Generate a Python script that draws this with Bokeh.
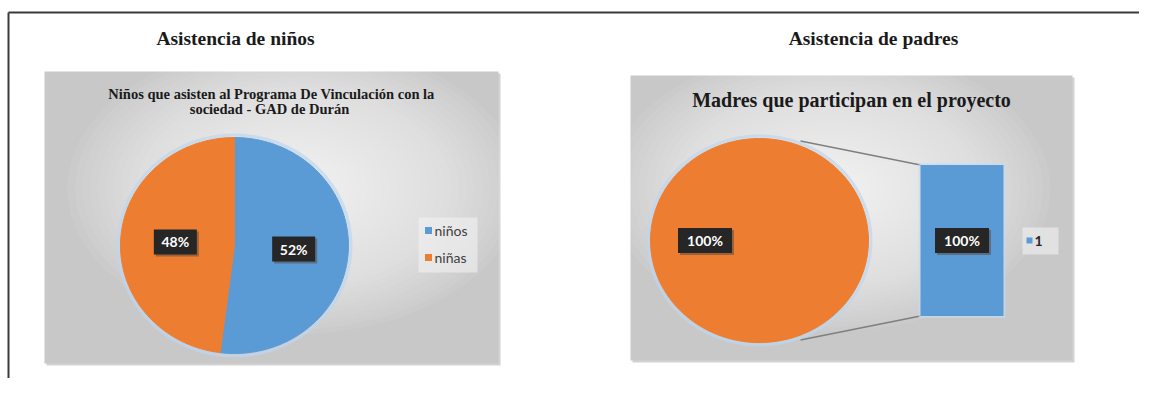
import numpy as np
from bokeh.plotting import figure
from bokeh.models import Range1d
from bokeh.core.properties import value
from bokeh.embed import file_html
from bokeh.resources import INLINE

# ---------------- data ----------------
child_labels = ["niños", "niñas"]
child_pct = [52, 48]
child_colors = ["#5B9BD5", "#ED7D31"]

parent_labels = ["1"]
parent_pct = [100]
parent_pie_color = "#ED7D31"
parent_bar_color = "#5B9BD5"

title_left = "Asistencia de niños"
title_right = "Asistencia de padres"
sub_left = ["Niños que asisten al Programa De Vinculación con la",
            "sociedad - GAD de Durán"]
sub_right = "Madres que participan en el proyecto"

# ---------------- figure (1 data unit = 1 px, Y = 394 - image y) ----------------
H = 394
def Y(v):
    return H - v

p = figure(width=1139, height=378, x_range=Range1d(0, 1139), y_range=Range1d(16, 394),
           output_backend="svg", toolbar_location=None, min_border=0)
p.axis.visible = False
p.grid.visible = False
p.outline_line_color = None
p.background_fill_color = "white"
p.border_fill_color = "white"

SERIF = value("Liberation Serif")
SANS = value("Lato")

# frame lines
p.line([8, 1139], [Y(12), Y(12)], line_color="#3a3a3a", line_width=2)
p.line([8, 8], [Y(12), Y(394)], line_color="#3a3a3a", line_width=2)


def panel(x0, x1, y0, y1, cx_frac=0.5, cy_frac=0.45):
    # shadow
    p.quad(left=x0 + 2, right=x1 + 2, top=Y(y0 + 2), bottom=Y(y1 + 2),
           fill_color="#b4b4b4", fill_alpha=0.6, line_color=None)
    p.quad(left=x0, right=x1, top=Y(y0), bottom=Y(y1), fill_color="#c8c8c8", line_color=None)
    w, h = x1 - x0, y1 - y0
    cx, cy = x0 + w * cx_frac, y0 + h * cy_frac
    n = 28
    for k in range(n):
        s = 1.0 - k * (0.95 / n)
        p.ellipse(x=[cx], y=[Y(cy)], width=w * s, height=h * s,
                  fill_color="white", fill_alpha=0.06, line_color=None)


def label_box(x, y, txt, w):
    p.rect(x=[x + 2], y=[Y(y + 2)], width=w, height=25, fill_color="#5a4a40",
           fill_alpha=0.55, line_color=None)
    p.rect(x=[x], y=[Y(y)], width=w, height=25, fill_color="#262626", line_color=None)
    p.text(x=[x], y=[Y(y)], text=[txt], text_font=SANS, text_font_style="bold",
           text_font_size="14px", text_color="white", text_align="center",
           text_baseline="middle")


# ================= LEFT CHART =================
panel(44, 498, 71, 363, cx_frac=0.55, cy_frac=0.4)

p.text(x=[235], y=[Y(38)], text=[title_left], text_font=SERIF, text_font_style="bold",
       text_font_size="19.5px", text_color="#1a1a1a", text_align="center", text_baseline="middle")
p.text(x=[271, 269], y=[Y(93), Y(108)], text=sub_left, text_font=SERIF,
       text_font_style="bold", text_font_size="14.5px", text_color="#1a1a1a",
       text_align="center", text_baseline="middle")

cx, cy, rx, ry = 234, 245, 114, 108
p.ellipse(x=[cx], y=[Y(cy)], width=2 * rx + 5, height=2 * ry + 5,
          fill_color=None, line_color="#bcd6ee", line_width=3, line_alpha=0.7)
tot = float(sum(child_pct))
cum = 0.0
for lab, v, col in zip(child_labels, child_pct, child_colors):
    f0, f1 = cum / tot, (cum + v) / tot
    th = np.linspace(2 * np.pi * f0, 2 * np.pi * f1, 120)
    xs = [cx] + list(cx + rx * np.sin(th))
    ys = [Y(cy)] + list(Y(cy) + ry * np.cos(th))
    p.patch(xs, ys, fill_color=col, line_color=col, line_width=1)
    cum += v

cum = 0.0
for lab, v in zip(child_labels, child_pct):
    fm = (cum + v / 2) / tot
    th = 2 * np.pi * fm
    lx = cx + 0.52 * rx * np.sin(th)
    ly = cy - 0.52 * ry * np.cos(th)
    label_box(lx, ly, f"{v}%", 43)
    cum += v

# legend
p.quad(left=418, right=477, top=Y(217), bottom=Y(272), fill_color="#f2f2f2",
       fill_alpha=0.6, line_color=None)
leg_y = [230, 257]
p.scatter(x=[428] * len(child_labels), y=[Y(v) for v in leg_y], marker="square", size=7,
          fill_color=child_colors, line_color=None)
p.text(x=[434] * len(child_labels), y=[Y(v) for v in leg_y], text=child_labels,
       text_font=SANS, text_font_size="14px", text_color="#404040",
       text_align="left", text_baseline="middle")

# ================= RIGHT CHART =================
panel(630, 1072, 75, 360, cx_frac=0.45, cy_frac=0.4)

p.text(x=[873], y=[Y(38)], text=[title_right], text_font=SERIF, text_font_style="bold",
       text_font_size="19.5px", text_color="#1a1a1a", text_align="center", text_baseline="middle")
p.text(x=[851], y=[Y(99)], text=[sub_right], text_font=SERIF, text_font_style="bold",
       text_font_size="20px", text_color="#1a1a1a", text_align="center",
       text_baseline="middle")

pcx, pcy, prx, pry = 759, 240, 109, 102
# bar of the "other" slice
bar_left, bar_right = 920, 1003
bar_full = 151
bar_h = bar_full * parent_pct[0] / 100.0
bar_top = pcy - bar_h / 2
bar_bot = pcy + bar_h / 2

# connector lines (tangent-ish points on the pie)
ang = np.arcsin((800 - pcx) / prx)
top_pt = (pcx + prx * np.sin(ang), pcy - pry * np.cos(ang) - 5)
bot_pt = (pcx + prx * np.sin(ang), pcy + pry * np.cos(ang) + 5)
p.line([top_pt[0], bar_left], [Y(top_pt[1]), Y(bar_top)], line_color="#7f7f7f", line_width=1.5)
p.line([bot_pt[0], bar_left], [Y(bot_pt[1]), Y(bar_bot)], line_color="#7f7f7f", line_width=1.5)

p.ellipse(x=[pcx], y=[Y(pcy)], width=2 * prx + 5, height=2 * pry + 5,
          fill_color=None, line_color="#bcd6ee", line_width=3, line_alpha=0.7)
th = np.linspace(0, 2 * np.pi * parent_pct[0] / 100.0, 200)
p.patch(list(pcx + prx * np.sin(th)), list(Y(pcy) + pry * np.cos(th)),
        fill_color=parent_pie_color, line_color=parent_pie_color)

p.quad(left=bar_left - 2, right=bar_right + 2, top=Y(bar_top - 2), bottom=Y(bar_bot + 2),
       fill_color="#c5dcf0", fill_alpha=0.6, line_color=None)
p.quad(left=bar_left, right=bar_right, top=Y(bar_top), bottom=Y(bar_bot),
       fill_color=parent_bar_color, line_color=None)

label_box(pcx - 0.5 * prx, pcy, f"{parent_pct[0]}%", 54)
label_box((bar_left + bar_right) / 2, pcy, f"{parent_pct[0]}%", 54)

# legend
p.quad(left=1022, right=1058, top=Y(227), bottom=Y(254), fill_color="#f2f2f2",
       fill_alpha=0.6, line_color=None)
p.scatter(x=[1029], y=[Y(240)], marker="square", size=6, fill_color=parent_bar_color,
          line_color=None)
p.text(x=[1034], y=[Y(240)], text=parent_labels, text_font=SANS, text_font_style="bold",
       text_font_size="14px", text_color="#262626", text_align="left", text_baseline="middle")

open("out.html", "w").write(file_html(p, INLINE))
